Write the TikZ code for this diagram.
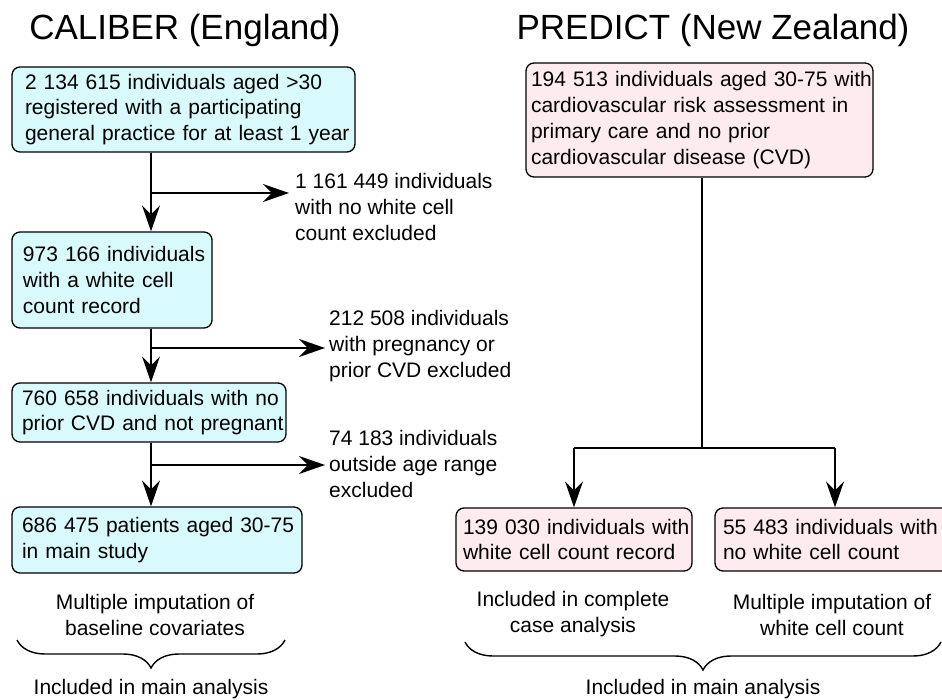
\documentclass[tikz,border=0pt]{standalone}
\usepackage{fontspec}
\setmainfont{Liberation Sans}
\usetikzlibrary{arrows.meta,decorations.pathreplacing}
\definecolor{cyanfill}{RGB}{216,250,252}
\definecolor{pinkfill}{RGB}{253,235,240}
\newcommand\bl[1]{\mbox{#1}}
\tikzset{
  box/.style={draw=black, line width=1.3pt, rounded corners=8pt, align=left, inner ysep=0pt, font=\fontsize{21}{25.8}\selectfont},
  cbox/.style={box, fill=cyanfill},
  pbox/.style={box, fill=pinkfill},
  lbl/.style={align=left, inner sep=0pt, font=\fontsize{21}{26}\selectfont},
  clbl/.style={align=center, inner sep=0pt, font=\fontsize{21}{25.5}\selectfont},
  ttl/.style={inner sep=0pt, font=\fontsize{35}{40}\selectfont},
  conn/.style={line width=1.4pt},
  arr/.style={conn, -{Stealth[length=26pt,width=18pt,inset=9pt]}},
  brc/.style={line width=1.4pt, decorate, decoration={brace, mirror, amplitude=28pt}}
}
\begin{document}
\begin{tikzpicture}[x=1pt,y=-1pt]
\useasboundingbox (0,0) rectangle (942,700);
\begin{scope}
\clip (0,0) rectangle (942,700);
% titles
\node[ttl] (t1) at (185,30) {CALIBER (England)};
\node[ttl] (t2) at (713,30) {PREDICT (New Zealand)};
% left boxes
\node[cbox, inner xsep=13pt, text width=317pt, minimum height=85pt] (b1) at (183.5,109.5)
  {\bl{2 134 615 individuals aged >30}\\\bl{registered with a participating}\\\bl{general practice for at least 1 year}};
\node[cbox, inner xsep=11pt, text width=178pt, minimum height=96pt] (b2) at (112,280)
  {\bl{973 166 individuals}\\\bl{with a white cell}\\\bl{count record}};
\node[cbox, inner xsep=10pt, text width=254pt, minimum height=59pt] (b3) at (149,412.5)
  {\bl{760 658 individuals with no}\\\bl{prior CVD and not pregnant}};
\node[cbox, inner xsep=10pt, text width=270pt, minimum height=66pt] (b4) at (157,540)
  {\bl{686 475 patients aged 30-75}\\\bl{in main study}};
% exclusion labels
\node[lbl, anchor=north west] (e1) at (295,173) {1 161 449 individuals\\with no white cell\\count excluded};
\node[lbl, anchor=north west] (e2) at (329,310) {212 508 individuals\\with pregnancy or\\prior CVD excluded};
\node[lbl, anchor=north west] (e3) at (329,430) {74 183 individuals\\outside age range\\excluded};
% trunk
\coordinate (j1) at (151,193);
\coordinate (j2) at (151,348);
\coordinate (j3) at (151,465);
\draw[arr] (b1.south -| j1) -- (b2.north -| j1);
\draw[arr] (b2.south -| j2) -- (b3.north -| j2);
\draw[arr] (b3.south -| j3) -- (b4.north -| j3);
\draw[arr] (j1) -- ([xshift=-6pt]j1 -| e1.west);
\draw[arr] (j2) -- ([xshift=-4pt]j2 -| e2.west);
\draw[arr] (j3) -- ([xshift=-4pt]j3 -| e3.west);
% left notes
\node[clbl] (n1) at (155,615) {Multiple imputation of\\baseline covariates};
\draw[brc] (17,640) -- (285,640) node[midway, below=39pt, clbl] (m1) {Included in main analysis};
% right boxes
\node[pbox, inner xsep=5pt, text width=337pt, minimum height=114pt] (b5) at (699.5,120)
  {\bl{194 513 individuals aged 30-75 with}\\\bl{cardiovascular risk assessment in}\\\bl{primary care and no prior}\\\bl{cardiovascular disease (CVD)}};
\node[pbox, inner xsep=7pt, text width=222pt, minimum height=63pt] (b6) at (574,539.5)
  {\bl{139 030 individuals with}\\\bl{white cell count record}};
\node[pbox, inner xsep=8pt, text width=249pt, minimum height=63pt] (b7) at (847.5,539.5)
  {\bl{55 483 individuals with}\\\bl{no white cell count}};
\coordinate (s0) at (702,448);
\coordinate (s1) at (574,448);
\coordinate (s2) at (835,448);
\draw[conn] (b5.south -| s0) -- (s0);
\draw[conn] (s1) -- (s2);
\draw[arr] (s1) -- (b6.north -| s1);
\draw[arr] (s2) -- (b7.north -| s2);
\node[clbl] (n2) at (573,614) {Included in complete\\case analysis};
\node[clbl] (n3) at (832,615) {Multiple imputation of\\white cell count};
\draw[brc] (465,642) -- (941,642) node[midway, below=37pt, clbl] (m2) {Included in main analysis};
\end{scope}
\end{tikzpicture}
\end{document}
